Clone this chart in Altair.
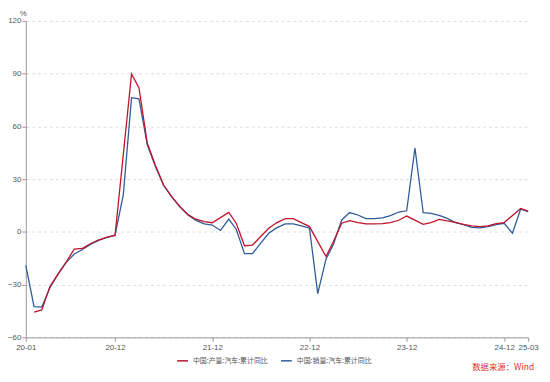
import altair as alt
import pandas as pd

PROD = "中国:产量:汽车:累计同比"
SALES = "中国:销量:汽车:累计同比"
SOURCE = "数据来源：Wind"

months = [d.strftime("%Y-%m") for d in pd.date_range("2020-01-01", "2025-03-01", freq="MS")]

production = [
    None, -45.7, -44.4, -31.0, -24.0, -17.0, -9.8, -9.4, -6.6, -4.5, -3.0, -2.0,
    None, 89.8, 81.9, 50.5, 38.0, 26.8, 20.2, 14.5, 9.8, 7.2, 5.8, 5.2,
    None, 11.1, 4.9, -7.9, -7.5, -2.6, 2.1, 5.3, 7.5, 7.5, 5.3, 3.0,
    None, -14.0, -5.5, 4.9, 6.4, 5.3, 4.5, 4.5, 4.7, 5.3, 6.6, 9.0,
    None, 4.3, 5.3, 7.1, 6.2, 5.4, 4.3, 3.4, 3.0, 3.4, 4.7, 5.3,
    None, 13.3, 11.8,
]

sales = [
    -19.0, -42.5, -42.8, -31.6, -24.0, -17.3, -12.6, -10.0, -7.0, -4.8, -3.2, -1.9,
    21.0, 76.3, 75.7, 49.5, 37.5, 26.5, 20.0, 14.3, 9.6, 6.5, 4.5, 3.9,
    0.8, 7.3, 1.5, -12.4, -12.4, -6.4, -0.8, 2.4, 4.5, 4.5, 3.4, 2.1,
    -35.1, -15.5, -7.0, 6.8, 11.0, 9.6, 7.5, 7.5, 7.9, 9.2, 11.3, 12.0,
    47.7, 10.9, 10.5, 9.4, 7.7, 5.3, 4.1, 2.6, 2.3, 3.0, 4.1, 4.9,
    -0.8, 13.0, 11.5,
]

tick_months = [(2020, 1), (2020, 12), (2021, 12), (2022, 12), (2023, 12), (2024, 12), (2025, 3)]
y_ticks = [-60, -30, 0, 30, 60, 90, 120]

rows = []
for m, p, s in zip(months, production, sales):
    if p is not None:
        rows.append({"date": m + "-01", "series": PROD, "value": p})
    if s is not None:
        rows.append({"date": m + "-01", "series": SALES, "value": s})
df = pd.DataFrame(rows)

def dt(y, m):
    return alt.DateTime(year=y, month=m, date=1, utc=True)

lines = alt.Chart(df).mark_line(strokeWidth=1.3).encode(
    x=alt.X(
        "utcyearmonth(date):T",
        scale=alt.Scale(domain=[dt(2020, 1), dt(2025, 3)], nice=False),
        axis=alt.Axis(
            values=[dt(y, m) for y, m in tick_months],
            format="%y-%m",
            title=None,
            grid=False,
            domainColor="#999999",
            tickColor="#999999",
            tickSize=4,
            labelPadding=2,
            labelFontSize=8,
            labelFont="Liberation Sans",
            labelColor="#555555",
            labelOverlap=False,
            labelFlush=False,
        ),
    ),
    y=alt.Y(
        "value:Q",
        scale=alt.Scale(domain=[-60, 120], nice=False, zero=False),
        axis=alt.Axis(
            values=y_ticks,
            title="%",
            titleAngle=0,
            titleX=-3,
            titleY=-7,
            titleAlign="center",
            titleBaseline="middle",
            titleFontSize=8,
            titleFontWeight="normal",
            titleColor="#555555",
            titleFont="Liberation Sans",
            grid=True,
            gridDash=[3, 3],
            gridColor="#dddddd",
            domainColor="#999999",
            tickColor="#999999",
            tickSize=4,
            labelPadding=1,
            labelFontSize=8,
            labelFont="Liberation Sans",
            labelColor="#555555",
        ),
    ),
    color=alt.Color(
        "series:N",
        scale=alt.Scale(domain=[PROD, SALES], range=["#c0142c", "#2e5c9a"]),
        legend=alt.Legend(
            orient="none",
            legendX=152,
            legendY=337,
            direction="horizontal",
            title=None,
            symbolType="stroke",
            symbolSize=120,
            symbolStrokeWidth=1.5,
            labelFontSize=7,
            labelFont="Noto Sans CJK SC",
            labelColor="#555555",
            columnPadding=10,
            labelOffset=4,
        ),
    ),
)

source = alt.Chart(pd.DataFrame({"t": [SOURCE]})).mark_text(
    align="right", baseline="alphabetic", color="#e0302f", fontSize=8.5, font="Noto Sans CJK SC"
).encode(x=alt.value(514), y=alt.value(353), text="t:N")

chart = alt.layer(lines, source).properties(
    width=508,
    height=320,
    autosize=alt.AutoSizeParams(type="none"),
    padding={"left": 18, "top": 11, "right": 14, "bottom": 35},
).configure_view(stroke=None)

chart.save("out.html", embed_options={"renderer": "svg", "actions": False})
